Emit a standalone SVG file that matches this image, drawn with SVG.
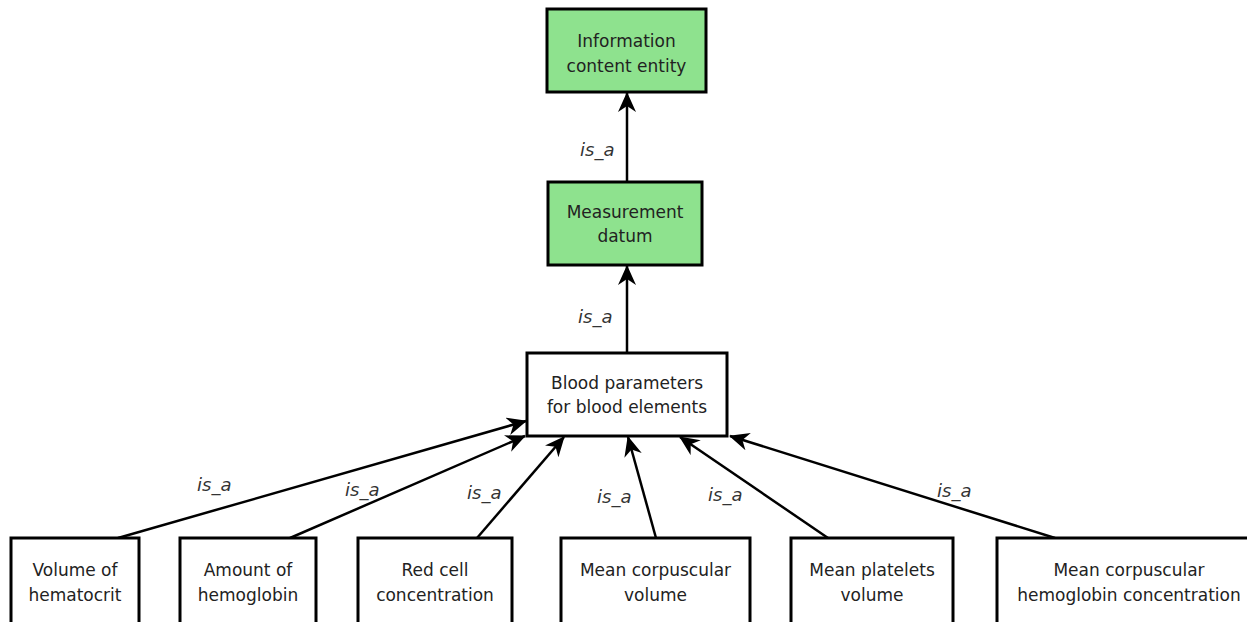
<svg xmlns="http://www.w3.org/2000/svg" width="1247" height="622" viewBox="0 0 1247 622">
<style>
.box{fill:#fff;stroke:#000;stroke-width:3}
.green{fill:#8ee28e}
.t{font-family:"DejaVu Sans",sans-serif;font-size:17px;fill:#222;text-anchor:middle}
.lbl{font-family:"DejaVu Sans",sans-serif;font-size:18px;font-style:italic;fill:#333}
.c{stroke:#000;stroke-width:2.5;fill:none;marker-end:url(#ah)}
</style>
<defs>
<marker id="ah" markerUnits="userSpaceOnUse" markerWidth="20" markerHeight="18" viewBox="0 0 20 18" refX="19" refY="9" orient="auto">
<path d="M0,0 L20,9 L0,18 L6,9 z" fill="#000"/>
</marker>
</defs>
<rect width="1247" height="622" fill="#fff"/>
<g id="connectors">
<line class="c" x1="627" y1="182" x2="627" y2="93"/>
<line class="c" x1="627" y1="353" x2="627" y2="266"/>
<line class="c" x1="118" y1="538" x2="526" y2="421"/>
<line class="c" x1="290" y1="538" x2="525" y2="436"/>
<line class="c" x1="477" y1="538" x2="564" y2="437"/>
<line class="c" x1="656" y1="538" x2="628" y2="437"/>
<line class="c" x1="828" y1="538" x2="680" y2="437"/>
<line class="c" x1="1055" y1="538" x2="730" y2="436"/>
<text class="lbl" x="580" y="156">is_a</text>
<text class="lbl" x="578" y="323">is_a</text>
<text class="lbl" x="197" y="491">is_a</text>
<text class="lbl" x="345" y="496">is_a</text>
<text class="lbl" x="467" y="499">is_a</text>
<text class="lbl" x="597" y="503">is_a</text>
<text class="lbl" x="708" y="501">is_a</text>
<text class="lbl" x="937" y="497">is_a</text>
</g>
<g id="n-ice"><rect class="box green" x="547" y="9" width="159" height="83"/><text class="t" x="626.5" y="47">Information</text><text class="t" x="626.5" y="72">content entity</text></g>
<g id="n-md"><rect class="box green" x="548" y="182" width="154" height="83"/><text class="t" x="625" y="218">Measurement</text><text class="t" x="625" y="242">datum</text></g>
<g id="n-bp"><rect class="box" x="527" y="353" width="200" height="83"/><text class="t" x="627" y="389">Blood parameters</text><text class="t" x="627" y="413">for blood elements</text></g>
<g id="n-vh"><rect class="box" x="11" y="538" width="128" height="90"/><text class="t" x="75" y="576">Volume of</text><text class="t" x="75" y="601">hematocrit</text></g>
<g id="n-ah"><rect class="box" x="180" y="538" width="136" height="90"/><text class="t" x="248" y="576">Amount of</text><text class="t" x="248" y="601">hemoglobin</text></g>
<g id="n-rc"><rect class="box" x="358" y="538" width="154" height="90"/><text class="t" x="435" y="576">Red cell</text><text class="t" x="435" y="601">concentration</text></g>
<g id="n-mcv"><rect class="box" x="561" y="538" width="189" height="90"/><text class="t" x="655.5" y="576">Mean corpuscular</text><text class="t" x="655.5" y="601">volume</text></g>
<g id="n-mpv"><rect class="box" x="791" y="538" width="162" height="90"/><text class="t" x="872" y="576">Mean platelets</text><text class="t" x="872" y="601">volume</text></g>
<g id="n-mchc"><rect class="box" x="997" y="538" width="264" height="90"/><text class="t" x="1129" y="576">Mean corpuscular</text><text class="t" x="1129" y="601">hemoglobin concentration</text></g>
</svg>
